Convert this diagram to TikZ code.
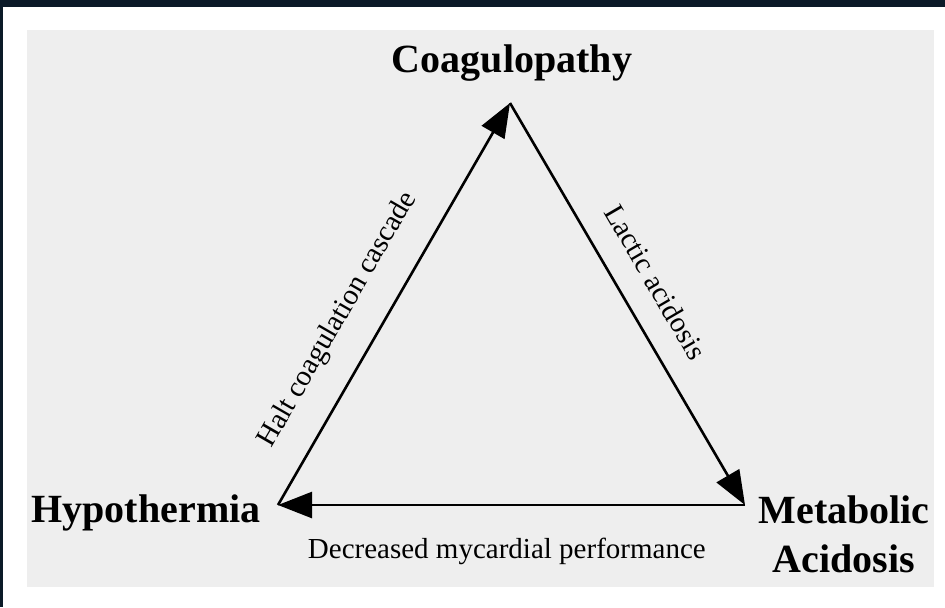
\documentclass[tikz,border=0pt]{standalone}
\usepackage{fontspec}
\setmainfont{Liberation Serif}
\usetikzlibrary{arrows.meta}
\definecolor{frame}{HTML}{0B1A28}
\definecolor{panel}{HTML}{EEEEEE}
\tikzset{
  corner/.style={font=\bfseries\fontsize{20}{24}\selectfont, inner sep=0pt, anchor=base},
  cause/.style={font=\fontsize{14.5}{17}\selectfont, inner sep=0pt},
  link/.style={line width=1.3pt, -{Triangle[length=17pt,width=13pt]}}
}
\begin{document}
\begin{tikzpicture}[x=0.5pt,y=-0.5pt]
          % frame and panel
          \fill[frame] (0,0) rectangle (945,607);
          \fill[white] (3,7) rectangle (945,607);
          \fill[panel] (27,30) rectangle (934,587);
          % corners of the triangle
          \coordinate (apex) at (510,103);
          \coordinate (lv) at (278,505);
          \coordinate (rv) at (745,505);
          % names
          \node[corner] (coag) at (512,72) {Coagulopathy};
          \node[corner] (hypo) at (146,522) {Hypothermia};
          \node[corner] (meta) at (844,523) {Metabolic};
          \node[corner] (acid) at (844,572) {Acidosis};
          % arrows
          \draw[link] (lv) -- node[cause, pos=.41, sloped, above=13pt] (halt) {Halt coagulation cascade} (apex);
          \draw[link] (apex) -- node[cause, pos=.49, sloped, above=12pt] (lactic) {Lactic acidosis} (rv);
          \draw[link] (rv) -- node[cause, pos=.51, below=16pt] (myo) {Decreased mycardial performance} (lv);
        \end{tikzpicture}
\end{document}
